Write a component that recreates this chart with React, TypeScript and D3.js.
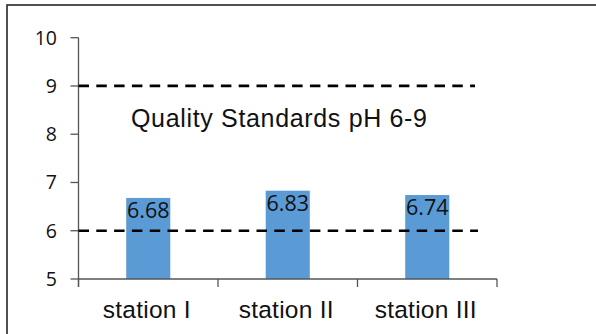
import React from "react";
import * as d3 from "d3";

const categories = ["station I", "station II", "station III"];
const phValues = [6.68, 6.83, 6.74];
const yTicks = [5, 6, 7, 8, 9, 10];
const standardLines = [9, 6];
const standardLabel = "Quality Standards pH 6-9";

export default function App() {
  const W = 596, H = 334;
  const x0 = 78.5, x1 = 497, yTop = 37.7, yBot = 279;
  const y = d3.scaleLinear().domain([5, 10]).range([yBot, yTop]);
  const x = d3.scaleBand<string>().domain(categories).range([x0, x1]).padding(0);
  const barW = x.bandwidth() * 0.316;
  const bounds = [x0, ...categories.map((c) => (x(c) as number) + x.bandwidth())];
  const lineEnds = [475, 478];
  return (
    <div style={{ position: "absolute", left: 0, top: 0, width: W, height: H, background: "#fff" }}>
      <svg width={W} height={H} style={{ display: "block" }}>
        <rect x={7} y={5} width={600} height={340} fill="#fff" stroke="#262626" strokeWidth={1.6} />
        {categories.map((c, i) => {
          const cx = (x(c) as number) + x.bandwidth() / 2;
          return (
            <g key={c}>
              <rect x={cx - barW / 2} y={y(phValues[i])} width={barW} height={yBot - y(phValues[i])} fill="#5B9BD5" />
              <text x={cx} y={y(phValues[i]) + 20} textAnchor="middle" fontFamily="'Open Sans', sans-serif" fontSize={21.5} fill="#111">
                {phValues[i].toFixed(2)}
              </text>
            </g>
          );
        })}
        <line x1={x0} x2={x0} y1={yTop} y2={yBot + 8} stroke="#555" strokeWidth={1.3} />
        {yTicks.map((t) => (
          <g key={t}>
            <line x1={x0 - 8} x2={x0} y1={y(t)} y2={y(t)} stroke="#555" strokeWidth={1.3} />
            <text x={57} y={y(t) + 7} textAnchor="end" fontFamily="'Open Sans', sans-serif" fontSize={19.5} fill="#111">
              {t}
            </text>
          </g>
        ))}
        <line x1={x0} x2={x1} y1={yBot} y2={yBot} stroke="#555" strokeWidth={1.3} />
        {bounds.map((b, i) => (
          <line key={i} x1={b} x2={b} y1={yBot} y2={yBot + 8} stroke="#555" strokeWidth={1.3} />
        ))}
        {categories.map((c) => (
          <text key={c} x={(x(c) as number) + x.bandwidth() / 2 - 1.5} y={318} textAnchor="middle" fontFamily="'Liberation Sans', Arial, sans-serif" fontSize={24.5} letterSpacing={0.25} fill="#111">
            {c}
          </text>
        ))}
        {standardLines.map((v, i) => (
          <line key={v} x1={x0} x2={lineEnds[i]} y1={y(v)} y2={y(v)} stroke="#000" strokeWidth={2.7} strokeDasharray="10.5,7.3" />
        ))}
        <text x={131} y={127} fontFamily="'Liberation Sans', Arial, sans-serif" fontSize={25} textLength={296} lengthAdjust="spacing" fill="#111">
          {standardLabel}
        </text>
      </svg>
    </div>
  );
}
